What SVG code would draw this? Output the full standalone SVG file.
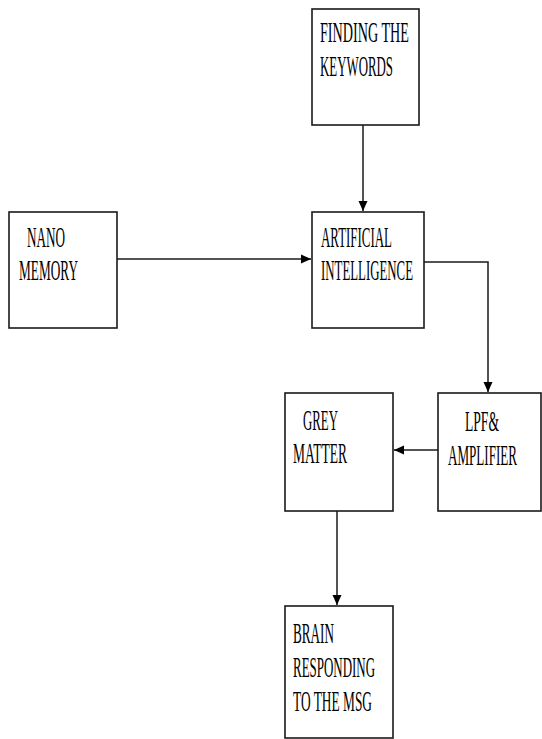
<svg xmlns="http://www.w3.org/2000/svg" width="542" height="739" viewBox="0 0 542 739">
<style>
.box{fill:#fff;stroke:#1a1a1a;stroke-width:1.6}
.lbl{font-family:"Liberation Serif","Times New Roman",serif;font-size:30px;fill:#000}
.conn{fill:none;stroke:#1a1a1a;stroke-width:1.5}
</style>
<defs>
<marker id="arr" markerUnits="userSpaceOnUse" markerWidth="11" markerHeight="11" refX="10" refY="5.5" orient="auto">
<path d="M0,1 L10,5.5 L0,10 Z" fill="#000"/>
</marker>
</defs>
<rect width="542" height="739" fill="#fff"/>
<g id="connectors">
<path class="conn" d="M363,125 V211" marker-end="url(#arr)"/>
<path class="conn" d="M117,259 H311" marker-end="url(#arr)"/>
<path class="conn" d="M424,262 H488 V392" marker-end="url(#arr)"/>
<path class="conn" d="M438,450 H394" marker-end="url(#arr)"/>
<path class="conn" d="M337,511 V605" marker-end="url(#arr)"/>
</g>
<g id="finding">
<rect class="box" x="312" y="9" width="107" height="116"/>
<text class="lbl" x="320" y="42" textLength="89" lengthAdjust="spacingAndGlyphs">FINDING  THE</text>
<text class="lbl" x="320" y="76" textLength="73" lengthAdjust="spacingAndGlyphs">KEYWORDS</text>
</g>
<g id="nano">
<rect class="box" x="9" y="212" width="108" height="116"/>
<text class="lbl" x="27" y="247" textLength="38" lengthAdjust="spacingAndGlyphs">NANO</text>
<text class="lbl" x="19" y="280" textLength="59" lengthAdjust="spacingAndGlyphs">MEMORY</text>
</g>
<g id="ai">
<rect class="box" x="312" y="212" width="112" height="116"/>
<text class="lbl" x="321" y="247" textLength="71" lengthAdjust="spacingAndGlyphs">ARTIFICIAL</text>
<text class="lbl" x="321" y="280" textLength="92" lengthAdjust="spacingAndGlyphs">INTELLIGENCE</text>
</g>
<g id="lpf">
<rect class="box" x="438" y="393" width="103" height="118"/>
<text class="lbl" x="465" y="431" textLength="34" lengthAdjust="spacingAndGlyphs">LPF&amp;</text>
<text class="lbl" transform="translate(448,465) scale(0.436,1)">AMPLIFIER</text>
</g>
<g id="grey">
<rect class="box" x="285" y="393" width="108" height="118"/>
<text class="lbl" x="303" y="430" textLength="35" lengthAdjust="spacingAndGlyphs">GREY</text>
<text class="lbl" x="293" y="463" textLength="54" lengthAdjust="spacingAndGlyphs">MATTER</text>
</g>
<g id="brain">
<rect class="box" x="285" y="606" width="108" height="132"/>
<text class="lbl" x="293" y="643" textLength="41" lengthAdjust="spacingAndGlyphs">BRAIN</text>
<text class="lbl" x="293" y="677" textLength="82" lengthAdjust="spacingAndGlyphs">RESPONDING</text>
<text class="lbl" x="293" y="711" textLength="79" lengthAdjust="spacingAndGlyphs">TO THE MSG</text>
</g>
</svg>
